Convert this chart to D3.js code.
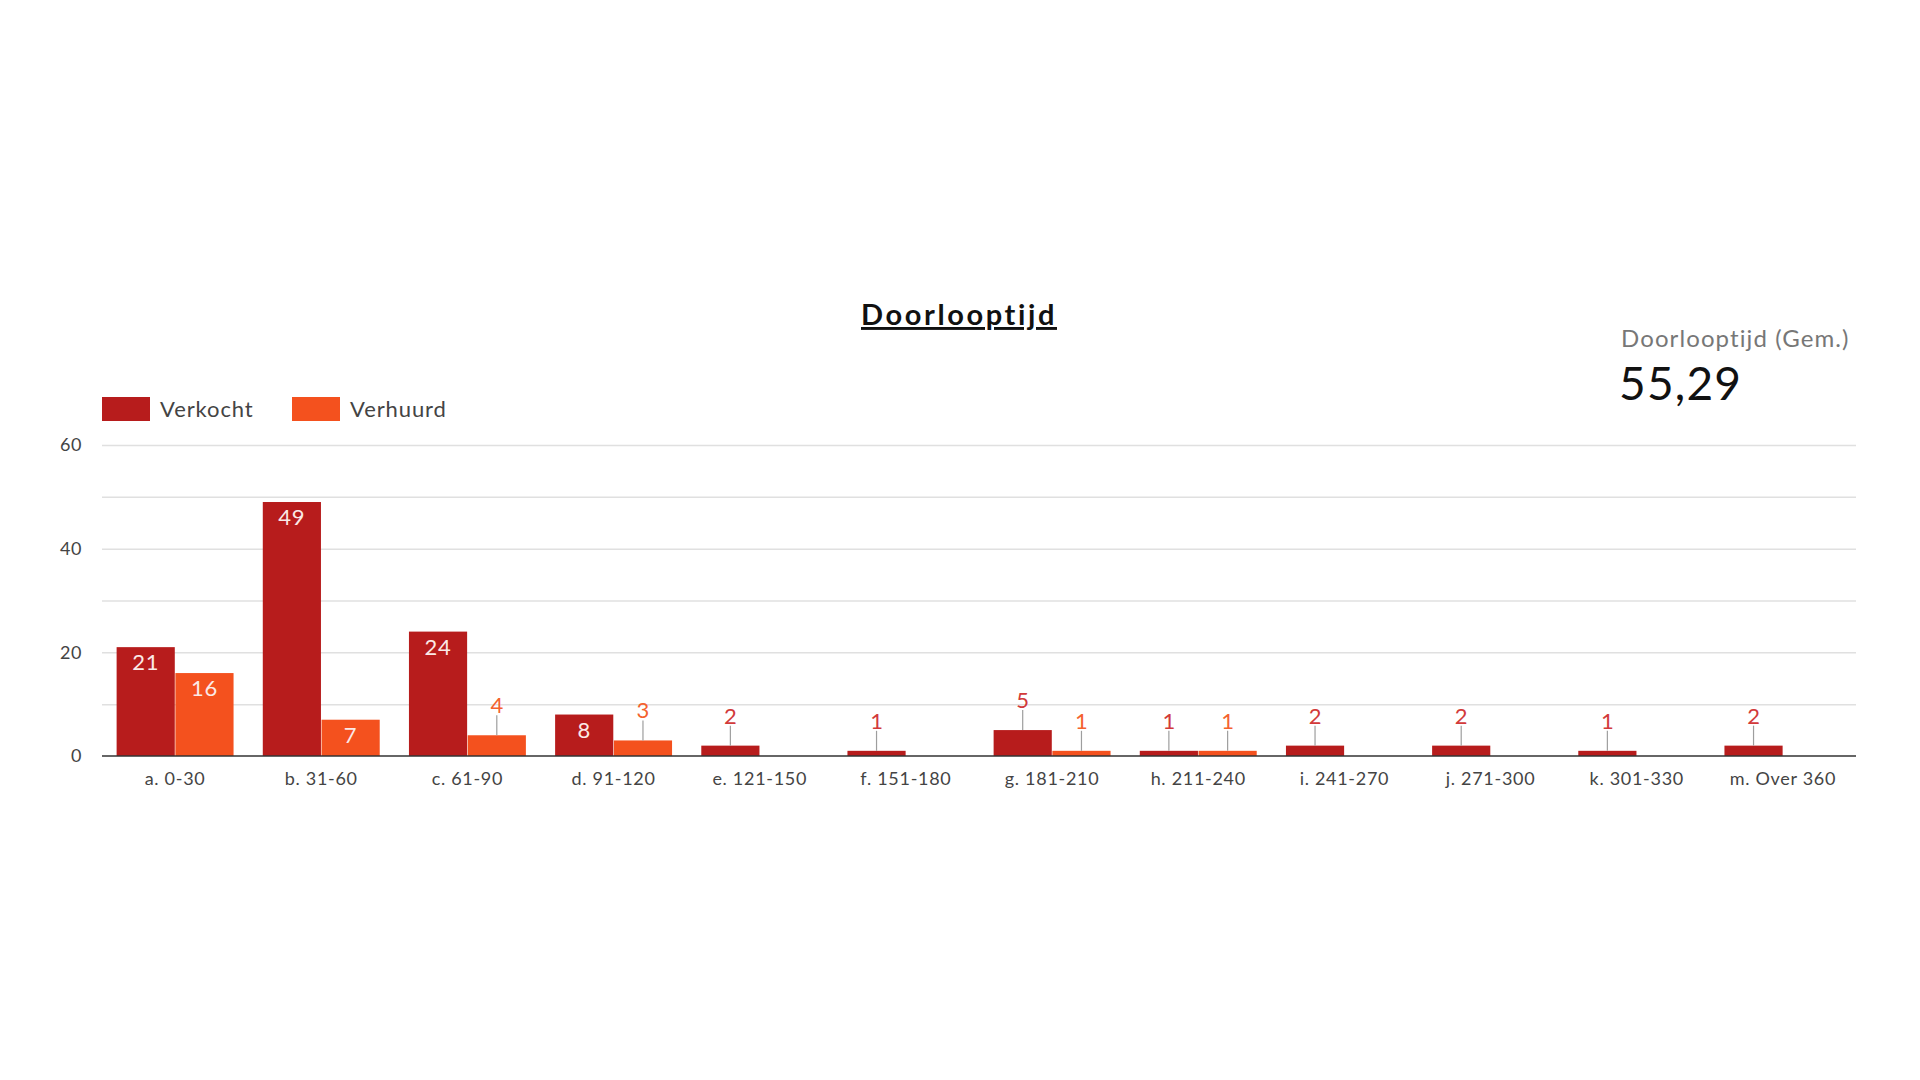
<!DOCTYPE html>
<meta charset="utf-8">
<head>
    <title>Doorlooptijd</title>
</head>
<style>
body { margin: 0; background: #fff; font-family: Lato, "Open Sans", sans-serif; }
.grid line { stroke: #e0e0e0; stroke-width: 1.5; }
.grid path { stroke: none; }
</style>

<script src="https://d3js.org/d3.v7.min.js"></script>

<div id="viz"></div>

<script>
// categories + values
var categories = ["a. 0-30", "b. 31-60", "c. 61-90", "d. 91-120", "e. 121-150", "f. 151-180",
                  "g. 181-210", "h. 211-240", "i. 241-270", "j. 271-300", "k. 301-330", "m. Over 360"];
var verkocht = [21, 49, 24, 8, 2, 1, 5, 1, 2, 2, 1, 2];
var verhuurd = [16, 7, 4, 3, 0, 0, 1, 1, 0, 0, 0, 0];
var seriesNames = ["Verkocht", "Verhuurd"];
var yTicks = [0, 20, 40, 60];
var kpiLabel = "Doorlooptijd (Gem.)";
var kpiValue = "55,29";

var colors = ["#b71c1c", "#f4511e"];
var labelColors = ["#d23a3a", "#f4622e"];

var W = 1920, H = 1080;
var plot = {left: 102, right: 1856, top: 445, bottom: 756};

var svg = d3.select('#viz')
    .append('svg')
        .attr('width', W)
        .attr('height', H);

var x = d3.scaleBand()
    .domain(categories)
    .range([plot.left, plot.right])
    .paddingInner(0.2)
    .paddingOuter(0.1);

var x1 = d3.scaleBand()
    .domain(seriesNames)
    .range([0, x.bandwidth()])
    .paddingInner(0.01);

var y = d3.scaleLinear()
    .domain([0, 60])
    .range([plot.bottom, plot.top]);

// gridlines every 10
svg.append("g")
    .attr("class", "grid")
    .attr("transform", "translate(" + plot.left + ",0)")
    .call(d3.axisLeft(y).tickValues(d3.range(10, 61, 10)).tickSize(-(plot.right - plot.left)).tickFormat(""));

// y labels
svg.append("g")
    .selectAll("text")
    .data(yTicks)
    .enter()
    .append("text")
    .attr("x", 82)
    .attr("y", function(d) { return y(d); })
    .attr("dy", "0.35em")
    .attr("text-anchor", "end")
    .style("font-size", "18px")
    .style("letter-spacing", "0.6px")
    .style("fill", "#444")
    .text(function(d) { return d; });

// data rows
var rows = categories.map(function(c, i) {
    return {cat: c, vals: [verkocht[i], verhuurd[i]]};
});

var groups = svg.append("g")
    .selectAll("g")
    .data(rows)
    .enter()
    .append("g")
    .attr("transform", function(d) { return "translate(" + x(d.cat) + ",0)"; });

var bars = groups.selectAll("g.bar")
    .data(function(d) { return d.vals.map(function(v, j) { return {v: v, s: j}; }); })
    .enter()
    .append("g")
    .attr("class", "bar");

bars.filter(function(d) { return d.v > 0; })
    .append("rect")
    .attr("x", function(d) { return x1(seriesNames[d.s]); })
    .attr("width", x1.bandwidth())
    .attr("y", function(d) { return y(d.v); })
    .attr("height", function(d) { return y(0) - y(d.v); })
    .attr("fill", function(d) { return colors[d.s]; });

// labels: inside when bar is tall enough, otherwise above with a leader line
var inside = function(d) { return y(0) - y(d.v) >= 30; };

bars.filter(function(d) { return d.v > 0 && inside(d); })
    .append("text")
    .attr("x", function(d) { return x1(seriesNames[d.s]) + x1.bandwidth() / 2; })
    .attr("y", function(d) { return y(d.v) + 23; })
    .attr("text-anchor", "middle")
    .style("font-size", "22px")
    .style("letter-spacing", "0.8px")
    .style("fill", "#fbe9e7")
    .text(function(d) { return d.v; });

var outside = bars.filter(function(d) { return d.v > 0 && !inside(d); });

outside.append("line")
    .attr("x1", function(d) { return x1(seriesNames[d.s]) + x1.bandwidth() / 2; })
    .attr("x2", function(d) { return x1(seriesNames[d.s]) + x1.bandwidth() / 2; })
    .attr("y1", function(d) { return y(d.v); })
    .attr("y2", function(d) { return y(d.v) - 20; })
    .attr("stroke", "#9e9e9e")
    .attr("stroke-width", 1.2);

outside.append("text")
    .attr("x", function(d) { return x1(seriesNames[d.s]) + x1.bandwidth() / 2; })
    .attr("y", function(d) { return y(d.v) - 22; })
    .attr("text-anchor", "middle")
    .style("font-size", "22px")
    .style("fill", function(d) { return labelColors[d.s]; })
    .text(function(d) { return d.v; });

// baseline
svg.append("line")
    .attr("x1", plot.left).attr("x2", plot.right)
    .attr("y1", y(0)).attr("y2", y(0))
    .attr("stroke", "#333")
    .attr("stroke-width", 1.5);

// category labels
svg.append("g")
    .selectAll("text")
    .data(categories)
    .enter()
    .append("text")
    .attr("x", function(d) { return x(d) + x.bandwidth() / 2; })
    .attr("y", 785)
    .attr("text-anchor", "middle")
    .style("font-size", "18px")
    .style("letter-spacing", "0.7px")
    .style("fill", "#444")
    .text(function(d) { return d; });

// legend
var legend = svg.append("g")
    .selectAll("g")
    .data(seriesNames)
    .enter()
    .append("g")
    .attr("transform", function(d, i) { return "translate(" + [102, 292][i] + ",397)"; });
legend.append("rect")
    .attr("width", 48).attr("height", 24)
    .attr("fill", function(d, i) { return colors[i]; });
legend.append("text")
    .attr("x", 58).attr("y", 20)
    .style("font-size", "22px")
    .style("letter-spacing", "0.9px")
    .style("fill", "#444")
    .text(function(d) { return d; });

// title
svg.append("text")
    .attr("x", 959).attr("y", 325)
    .attr("text-anchor", "middle")
    .style("font-size", "29px")
    .style("font-weight", "bold")
    .style("letter-spacing", "2.6px")
    .style("text-decoration", "underline")
    .style("fill", "#111")
    .text("Doorlooptijd");

// kpi
svg.append("text")
    .attr("x", 1621).attr("y", 347)
    .style("font-size", "24px")
    .style("letter-spacing", "1.1px")
    .style("fill", "#777")
    .text(kpiLabel);
svg.append("text")
    .attr("x", 1619).attr("y", 400)
    .style("font-size", "46px")
    .style("letter-spacing", "1.2px")
    .style("fill", "#111")
    .text(kpiValue);
</script>
